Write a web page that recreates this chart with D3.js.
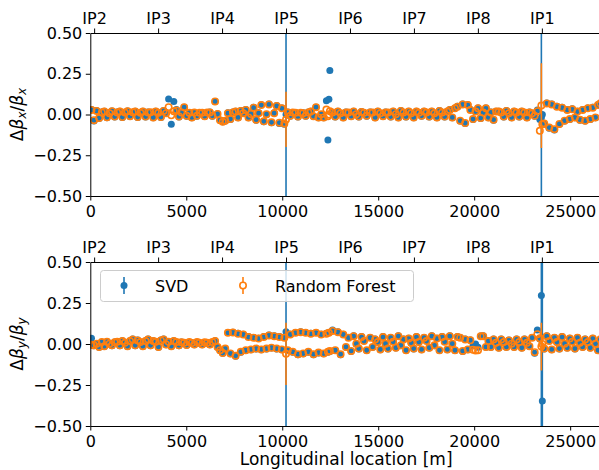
<!DOCTYPE html>
<html>
<head>
<meta charset="utf-8">
<script src="https://cdn.jsdelivr.net/npm/d3@7"></script>
<style>
body { margin: 0; background: #ffffff; }
svg text { font-family: "DejaVu Sans", sans-serif; }
</style>
</head>
<body>
<script>
// BPM longitudinal positions [m]
const bpmS = [
    60, 190, 330, 460, 600, 730, 870, 1000, 1130, 1270,
    1400, 1540, 1670, 1800, 1940, 2070, 2210, 2340, 2470, 2610,
    2740, 2880, 3010, 3140, 3280, 3410, 3550, 3680, 3820, 3950,
    4080, 4220, 4350, 4490, 4620, 4750, 4890, 5020, 5160, 5290,
    5420, 5560, 5690, 5830, 5960, 6090, 6230, 6360, 6500, 6630,
    6760, 6900, 7030, 7170, 7300, 7430, 7570, 7700, 7840, 7970,
    8100, 8240, 8370, 8510, 8640, 8770, 8910, 9040, 9180, 9310,
    9440, 9580, 9710, 9850, 9980, 10110, 10197, 10290, 10420, 10550,
    10690, 10820, 10960, 11090, 11220, 11360, 11490, 11630, 11760, 11890,
    12030, 12160, 12300, 12380, 12430, 12480, 12620, 12760, 12900, 13040,
    13180, 13320, 13450, 13590, 13720, 13860, 13990, 14130, 14260, 14400,
    14580, 14710, 14840, 14980, 15110, 15250, 15380, 15510, 15650, 15780,
    15920, 16050, 16180, 16320, 16450, 16590, 16720, 16850, 16990, 17120,
    17260, 17390, 17520, 17660, 17790, 17930, 18060, 18190, 18330, 18460,
    18600, 18730, 18860, 19000, 19130, 19270, 19400, 19530, 19670, 19800,
    19940, 20070, 20200, 20340, 20470, 20610, 20740, 20870, 21010, 21140,
    21280, 21410, 21540, 21680, 21810, 21950, 22080, 22210, 22350, 22480,
    22620, 22750, 22880, 23020, 23150, 23290, 23420, 23500, 23550, 23650,
    23780, 23910, 24040, 24180, 24310, 24440, 24580, 24710, 24850, 24980,
    25110, 25250, 25380, 25510, 25650, 25780, 25920, 26050, 26180, 26320,
    26450, 26580
];

// horizontal beta-beating
const dbxSvd = [
    0.03, -0.04, 0.025, -0.025, 0.015, 0.02, -0.02, 0.01, 0.022, -0.015,
    0.015, 0.02, -0.018, 0.01, 0.022, -0.012, 0.012, 0.02, -0.018, 0.008,
    0.02, -0.015, 0.015, 0.012, -0.02, 0.02, 0.008, -0.018, 0.025, 0.01,
    0.095, -0.06, 0.08, 0.03, -0.015, 0.01, 0.045, -0.01, 0.012, -0.02,
    0.01, -0.01, 0.008, 0.012, -0.012, 0.01, 0.015, -0.01, 0.08, 0.005,
    -0.035, -0.045, -0.04, 0.01, -0.03, 0.015, 0.02, -0.02, 0.025, 0.01,
    0.03, -0.02, 0.005, 0.045, -0.035, 0.01, 0.06, -0.045, 0.0, 0.065,
    -0.05, 0.01, 0.055, -0.055, 0.04, -0.06, 0.0, 0.015, -0.01, 0.01,
    0.012, -0.015, 0.008, 0.01, -0.01, 0.015, 0.02, -0.012, 0.045, -0.02,
    0.0, -0.02, 0.085, -0.156, 0.093, 0.27, 0.01, -0.015, 0.02, 0.005,
    -0.02, 0.015, 0.01, -0.012, 0.02, 0.0, -0.015, 0.018, 0.008, -0.01,
    0.015, 0.01, -0.02, 0.02, 0.005, -0.012, 0.015, 0.01, -0.015, 0.02,
    0.0, -0.02, 0.025, 0.01, -0.015, 0.02, 0.005, -0.02, 0.02, 0.012,
    -0.01, 0.02, 0.01, -0.015, 0.02, 0.005, -0.02, 0.025, 0.01, -0.015,
    0.02, 0.03, -0.02, 0.04, 0.05, -0.04, 0.065, -0.055, 0.06, 0.03,
    -0.03, 0.02, 0.04, -0.025, 0.01, 0.04, -0.02, 0.015, -0.035, 0.02,
    0.02, 0.01, -0.015, 0.025, 0.005, -0.02, 0.02, 0.01, -0.015, 0.02,
    0.01, -0.02, 0.015, 0.005, -0.01, 0.027, -0.03, -0.02, 0.0, -0.06,
    0.07, -0.085, 0.065, -0.095, 0.05, -0.06, 0.045, -0.04, 0.03, -0.03,
    0.035, -0.02, 0.02, -0.035, 0.03, -0.04, 0.04, -0.03, 0.045, -0.02,
    0.06, 0.07
];
const dbxRf = [
    0.028, -0.035, 0.022, -0.022, 0.013, 0.018, -0.017, 0.008, 0.02, -0.013,
    0.013, 0.018, -0.016, 0.012, 0.02, -0.01, 0.014, 0.018, -0.016, 0.01,
    0.018, -0.013, 0.013, 0.014, -0.018, 0.018, 0.01, -0.016, 0.022, 0.008,
    0.045, -0.005, 0.02, 0.025, -0.012, 0.012, 0.045, -0.008, 0.01, -0.018,
    0.012, -0.008, 0.01, 0.01, -0.01, 0.012, 0.013, -0.008, 0.08, 0.003,
    -0.035, -0.045, -0.038, 0.008, -0.028, 0.013, 0.018, -0.018, 0.022, 0.008,
    0.028, -0.018, 0.003, 0.042, -0.032, 0.008, 0.058, -0.042, 0.002, 0.062,
    -0.048, 0.008, 0.052, -0.05, 0.038, -0.055, -0.03, 0.012, -0.008, 0.012,
    0.01, -0.012, 0.01, 0.008, -0.008, 0.013, 0.018, -0.01, 0.045, -0.018,
    0.002, -0.018, 0.03, -0.01, 0.0, 0.02, 0.012, -0.013, 0.018, 0.007,
    -0.018, 0.013, 0.012, -0.01, 0.018, 0.002, -0.013, 0.016, 0.01, -0.008,
    0.013, 0.012, -0.018, 0.018, 0.007, -0.01, 0.013, 0.012, -0.013, 0.018,
    0.002, -0.018, 0.022, 0.012, -0.013, 0.018, 0.007, -0.018, 0.018, 0.01,
    -0.008, 0.018, 0.012, -0.013, 0.018, 0.007, -0.018, 0.022, 0.012, -0.013,
    0.018, 0.028, -0.018, 0.038, 0.048, -0.038, 0.062, -0.052, 0.058, 0.028,
    -0.028, 0.018, 0.038, -0.022, 0.012, 0.038, -0.018, 0.013, -0.032, 0.018,
    0.018, 0.012, -0.013, 0.022, 0.007, -0.018, 0.018, 0.012, -0.013, 0.018,
    0.012, -0.018, 0.013, 0.007, -0.008, 0.02, -0.1, 0.055, -0.06, -0.055,
    0.068, -0.08, 0.062, -0.09, 0.048, -0.058, 0.042, -0.038, 0.028, -0.028,
    0.032, -0.018, 0.018, -0.032, 0.028, -0.038, 0.038, -0.028, 0.042, -0.018,
    0.058, 0.068
];

// vertical beta-beating
const dbySvd = [
    0.035, -0.01, 0.0, -0.02, 0.01, -0.015, 0.015, 0.0, -0.01, 0.012,
    0.015, -0.01, 0.02, 0.005, -0.015, 0.02, 0.03, -0.01, 0.025, 0.01,
    -0.015, 0.02, 0.03, -0.01, 0.02, 0.015, -0.02, 0.025, 0.03, -0.005,
    0.015, -0.015, 0.02, 0.01, -0.01, 0.012, 0.005, -0.008, 0.01, 0.008,
    -0.005, 0.01, 0.005, -0.005, 0.008, 0.005, -0.005, 0.01, 0.02, -0.02,
    -0.04, -0.057, -0.03, 0.07, -0.06, 0.072, -0.075, 0.065, -0.05, 0.06,
    -0.04, 0.045, -0.035, 0.04, -0.03, 0.035, -0.035, 0.045, -0.03, 0.055,
    -0.025, 0.05, -0.03, 0.045, -0.035, 0.04, 0.075, -0.04, 0.06, -0.05,
    0.07, -0.065, 0.075, -0.06, 0.07, -0.05, 0.065, -0.065, 0.07, -0.055,
    0.06, -0.06, 0.065, -0.05, 0.07, -0.045, 0.085, -0.04, 0.075, -0.065,
    0.06, -0.02, 0.04, -0.045, 0.05, 0.0, -0.03, 0.045, 0.02, -0.04,
    0.04, -0.02, 0.03, 0.01, -0.035, 0.045, 0.0, -0.03, 0.04, 0.015,
    -0.025, 0.05, -0.01, 0.03, -0.04, 0.035, 0.005, -0.03, 0.045, 0.01,
    -0.035, 0.04, 0.02, -0.025, 0.05, -0.01, 0.035, -0.04, 0.045, 0.015,
    -0.035, 0.05, 0.0, -0.04, 0.045, 0.04, -0.045, 0.03, -0.035, 0.025,
    -0.01, 0.0, -0.02, 0.049, 0.05, -0.02, 0.02, -0.02, 0.03, 0.005,
    -0.025, 0.03, 0.01, -0.02, 0.025, 0.0, -0.02, 0.03, 0.01, -0.025,
    0.03, 0.005, -0.015, 0.04, -0.057, 0.085, 0.03, 0.295, -0.348, -0.03,
    0.05, 0.02, -0.035, 0.04, 0.01, -0.03, 0.045, 0.0, -0.025, 0.035,
    0.015, -0.03, 0.04, 0.005, -0.02, 0.03, 0.01, -0.025, 0.035, 0.0,
    -0.04, 0.03
];
const dbyRf = [
    -0.005, -0.008, 0.002, -0.018, 0.012, -0.013, 0.013, 0.002, -0.008, 0.01,
    0.013, -0.008, 0.018, 0.007, -0.013, 0.018, 0.028, -0.008, 0.022, 0.012,
    -0.013, 0.018, 0.028, -0.008, 0.018, 0.013, -0.018, 0.022, 0.028, -0.003,
    0.013, -0.013, 0.018, 0.012, -0.008, 0.01, 0.007, -0.006, 0.012, 0.006,
    -0.003, 0.012, 0.007, -0.003, 0.01, 0.007, -0.003, 0.012, 0.018, -0.018,
    -0.038, -0.055, -0.028, 0.068, -0.058, 0.07, -0.072, 0.062, -0.048, 0.058,
    -0.038, 0.042, -0.033, 0.038, -0.028, 0.033, -0.033, 0.042, -0.028, 0.052,
    -0.023, 0.048, -0.028, 0.042, -0.033, 0.038, -0.06, -0.038, 0.058, -0.048,
    0.068, -0.062, 0.072, -0.058, 0.068, -0.048, 0.062, -0.062, 0.068, -0.052,
    0.058, -0.058, 0.062, -0.048, 0.068, -0.043, 0.08, -0.038, 0.072, -0.062,
    0.058, -0.018, 0.038, -0.042, 0.048, 0.002, -0.028, 0.042, 0.018, -0.038,
    0.038, -0.018, 0.028, 0.012, -0.033, 0.042, 0.002, -0.028, 0.038, 0.013,
    -0.023, 0.048, -0.008, 0.028, -0.038, 0.033, 0.007, -0.028, 0.042, 0.012,
    -0.033, 0.038, 0.018, -0.023, 0.048, -0.008, 0.033, -0.038, 0.042, 0.013,
    -0.033, 0.048, 0.002, -0.038, 0.042, 0.038, -0.042, 0.028, -0.033, 0.023,
    -0.035, -0.04, -0.038, 0.047, 0.048, -0.018, 0.018, -0.018, 0.028, 0.007,
    -0.023, 0.028, 0.012, -0.018, 0.022, 0.002, -0.018, 0.028, 0.012, -0.023,
    0.028, 0.007, -0.013, 0.038, -0.05, 0.06, 0.035, -0.016, 0.0, -0.028,
    0.048, 0.018, -0.033, 0.038, 0.012, -0.028, 0.042, 0.002, -0.023, 0.033,
    0.013, -0.028, 0.038, 0.007, -0.018, 0.028, 0.012, -0.023, 0.033, 0.002,
    -0.038, 0.028
];

// only a few BPMs have error bars large enough to see
const errS = [10197, 23500, 23550];
const dbxSvdErr = [0.9, 0.9, 0];
const dbxRfErr = [0.17, 0.26, 0];
const dbySvdErr = [0.9, 0.9, 0.9];
const dbyRfErr = [0.19, 0.145, 0.05];

const ipNames = ["IP2", "IP3", "IP4", "IP5", "IP6", "IP7", "IP8", "IP1"];
const ipS = [200, 3532, 6864, 10197, 13529, 16861, 20193, 23526];

const xTicks = [0, 5000, 10000, 15000, 20000, 25000];
const yTicks = [-0.5, -0.25, 0, 0.25, 0.5];
const circumference = 26659;

const [width, height] = [599, 470];
const blue = '#1f77b4', orange = '#ff7f0e';
const fontSize = 16;

const svg = d3.select('body').append('svg')
    .attr('width', width)
    .attr('height', height)
    .attr('viewBox', [0, 0, width, height]);

svg.append('rect')
    .attr('width', width)
    .attr('height', height)
    .attr('fill', '#ffffff');

const x = d3.scaleLinear()
    .domain([0, circumference])
    .range([90.3, 602]);

const panels = [
    {top: 33, bottom: 196, svd: dbxSvd, rf: dbxRf, svdErr: dbxSvdErr, rfErr: dbxRfErr, plane: 'x'},
    {top: 262, bottom: 426, svd: dbySvd, rf: dbyRf, svdErr: dbySvdErr, rfErr: dbyRfErr, plane: 'y'}
];

panels.forEach((p, k) => {
    const y = d3.scaleLinear()
        .domain([-0.5, 0.5])
        .range([p.bottom, p.top]);

    const clipId = `clip${k}`;
    svg.append('clipPath').attr('id', clipId)
        .append('rect')
        .attr('x', x(0))
        .attr('y', p.top)
        .attr('width', x(circumference) - x(0))
        .attr('height', p.bottom - p.top);

    const plot = svg.append('g').attr('clip-path', `url(#${clipId})`);

    const errData = (vals, errs) => errS.map((s, i) => {
        const v = vals[bpmS.indexOf(s)];
        return {s, lo: v - errs[i], hi: v + errs[i]};
    }).filter(d => d.hi > d.lo);

    // SVD: error bars then filled markers
    plot.append('g')
        .attr('stroke', blue)
        .attr('stroke-width', 1.6)
        .selectAll('line')
        .data(errData(p.svd, p.svdErr))
        .join('line')
            .attr('x1', d => x(d.s))
            .attr('x2', d => x(d.s))
            .attr('y1', d => y(d.lo))
            .attr('y2', d => y(d.hi));

    plot.append('g')
        .attr('fill', blue)
        .selectAll('circle')
        .data(bpmS.map((s, i) => [s, p.svd[i]]))
        .join('circle')
            .attr('cx', d => x(d[0]))
            .attr('cy', d => y(d[1]))
            .attr('r', 3.5);

    // Random Forest: error bars then open markers
    plot.append('g')
        .attr('stroke', orange)
        .attr('stroke-width', 1.6)
        .selectAll('line')
        .data(errData(p.rf, p.rfErr))
        .join('line')
            .attr('x1', d => x(d.s))
            .attr('x2', d => x(d.s))
            .attr('y1', d => y(d.lo))
            .attr('y2', d => y(d.hi));

    plot.append('g')
        .attr('fill', 'none')
        .attr('stroke', orange)
        .attr('stroke-width', 1.6)
        .selectAll('circle')
        .data(bpmS.map((s, i) => [s, p.rf[i]]))
        .join('circle')
            .attr('cx', d => x(d[0]))
            .attr('cy', d => y(d[1]))
            .attr('r', 3.2);

    const styleAxis = g => {
        g.selectAll('text').attr('font-size', fontSize).attr('fill', '#000');
        g.selectAll('line, path').attr('stroke', '#000').attr('stroke-width', 1);
        g.attr('font-family', null);
    };

    svg.append('g')
        .attr('transform', `translate(0,${p.bottom})`)
        .call(d3.axisBottom(x).tickValues(xTicks).tickFormat(d3.format('d'))
            .tickSize(4.5).tickPadding(5).tickSizeOuter(0))
        .call(styleAxis);

    svg.append('g')
        .attr('transform', `translate(0,${p.top})`)
        .call(d3.axisTop(x).tickValues(ipS).tickFormat((d, i) => ipNames[i])
            .tickSize(4.5).tickPadding(5).tickSizeOuter(0))
        .call(styleAxis);

    svg.append('g')
        .attr('transform', `translate(${x(0)},0)`)
        .call(d3.axisLeft(y).tickValues(yTicks).tickFormat(d3.format('.2f'))
            .tickSize(4.5).tickPadding(3.5).tickSizeOuter(0))
        .call(styleAxis);

    // right spine
    svg.append('line')
        .attr('x1', x(circumference)).attr('x2', x(circumference))
        .attr('y1', p.top).attr('y2', p.bottom)
        .attr('stroke', '#000');

    // y label: Δβ_p / β_p
    const yl = svg.append('text')
        .attr('transform', `translate(23,${(p.top + p.bottom) / 2}) rotate(-90)`)
        .attr('text-anchor', 'middle')
        .attr('font-size', 17);
    yl.append('tspan').text('Δ');
    yl.append('tspan').attr('font-style', 'italic').text('β');
    yl.append('tspan').attr('font-style', 'italic').attr('font-size', 12)
        .attr('dy', 3).text(p.plane);
    yl.append('tspan').attr('dy', -3).text('/');
    yl.append('tspan').attr('font-style', 'italic').text('β');
    yl.append('tspan').attr('font-style', 'italic').attr('font-size', 12)
        .attr('dy', 3).text(p.plane);
});

svg.append('text')
    .attr('x', (x(0) + x(circumference)) / 2)
    .attr('y', 465)
    .attr('text-anchor', 'middle')
    .attr('font-size', 17)
    .text('Longitudinal location [m]');

// legend
const legend = svg.append('g');
legend.append('rect')
    .attr('x', 100.5).attr('y', 270.5)
    .attr('width', 313).attr('height', 31)
    .attr('rx', 3)
    .attr('fill', '#ffffff').attr('fill-opacity', 0.8)
    .attr('stroke', '#cccccc');

const legendItems = [
    {name: 'SVD', color: blue, filled: true, mx: 124, tx: 155},
    {name: 'Random Forest', color: orange, filled: false, mx: 243, tx: 275}
];
legendItems.forEach(it => {
    legend.append('line')
        .attr('x1', it.mx).attr('x2', it.mx)
        .attr('y1', 277).attr('y2', 294)
        .attr('stroke', it.color).attr('stroke-width', 1.6);
    legend.append('circle')
        .attr('cx', it.mx).attr('cy', 285.5)
        .attr('r', it.filled ? 3.5 : 3.2)
        .attr('fill', it.filled ? it.color : '#ffffff')
        .attr('stroke', it.filled ? 'none' : it.color)
        .attr('stroke-width', 1.6);
    legend.append('text')
        .attr('x', it.tx).attr('y', 291.5)
        .attr('font-size', fontSize)
        .text(it.name);
});
</script>
</body>
</html>
